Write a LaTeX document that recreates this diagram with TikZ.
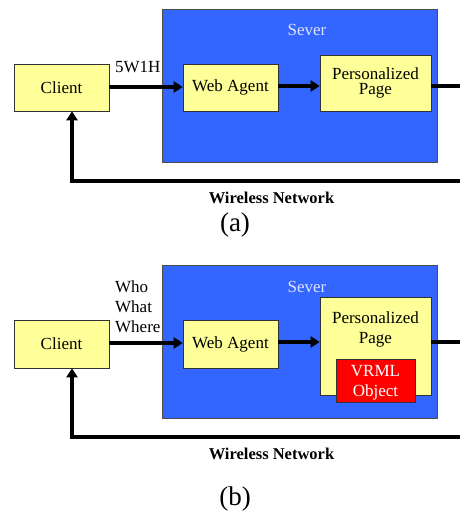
\documentclass[tikz,border=0pt]{standalone}
\usepackage{fontspec}
\setmainfont{Liberation Serif}
\usetikzlibrary{arrows.meta}
\definecolor{serverblue}{HTML}{3366FF}
\definecolor{boxyellow}{HTML}{FFFF99}
\definecolor{objred}{HTML}{FF0000}
\tikzset{
  server/.style={draw=black!70, line width=0.8pt, fill=serverblue},
  ybox/.style={draw=black!80, line width=0.6pt, fill=boxyellow},
  rbox/.style={draw=black!80, line width=0.6pt, fill=objred},
  lbl/.style={font=\fontsize{17}{18}\selectfont, align=center},
  txt/.style={font=\fontsize{17}{18}\selectfont, inner sep=0pt},
  link/.style={line width=3.6pt, -{Triangle[length=9pt,width=11pt]}},
  wire/.style={line width=3.6pt},
  net/.style={font=\bfseries\fontsize{16.5}{18}\selectfont, inner sep=0pt},
  panelcap/.style={font=\fontsize{27}{28}\selectfont, inner sep=0pt}
}
\begin{document}
\begin{tikzpicture}[x=1pt,y=-1pt]
\useasboundingbox (0,0) rectangle (460,512);

% ---------- panel (a) ----------
\draw[server] (162,9) rectangle (437,162);
\node[txt, text=white!88!blue, anchor=base] (svA) at (307,35) {Sever};
\node[ybox, minimum width=95pt, minimum height=47pt] (clA) at (61.5,87.5) {};
\node[lbl] at (clA) {Client};
\node[ybox, minimum width=95pt, minimum height=47pt] (waA) at (230.5,87.5) {};
\node[lbl] at (waA) {Web Agent};
\node[ybox, minimum width=111pt, minimum height=56pt] (ppA) at (375.5,83) {};
\node[lbl, text width=110pt, font=\fontsize{17}{15.5}\selectfont] at (ppA) {Personalized\\Page};
\coordinate (outA) at (461,86);
\coordinate (cornA) at (72,181);
\draw[link] (clA.east |- 0,87) -- (waA.west |- 0,87);
\node[txt, anchor=base west] (qA) at (115,72) {5W1H};
\draw[link] (waA.east |- 0,86) -- (ppA.west |- 0,86);
\draw[wire] (ppA.east |- 0,86) -- (outA);
\draw[link, line cap=butt] (outA |- cornA) -- (cornA) -- (clA.south -| cornA);
\node[net, anchor=base] (wnA) at (271.5,203) {Wireless Network};
\node[panelcap, anchor=base] (capA) at (235,231) {(a)};

% ---------- panel (b) ----------
\draw[server] (162,265) rectangle (437,418);
\node[txt, text=white!88!blue, anchor=base] (svB) at (307,292) {Sever};
\node[ybox, minimum width=95pt, minimum height=48pt] (clB) at (61.5,344) {};
\node[lbl] at (clB) {Client};
\node[ybox, minimum width=95pt, minimum height=48pt] (waB) at (230.5,344) {};
\node[lbl] at (waB) {Web Agent};
\node[ybox, minimum width=111pt, minimum height=98pt] (ppB) at (375.5,346) {};
\node[txt, anchor=base] (ppB1) at (375.5,323) {Personalized};
\node[txt, anchor=base] (ppB2) at (375.5,343) {Page};
\node[rbox, minimum width=79pt, minimum height=43pt] (vrB) at (375.5,380.5) {};
\node[txt, text=white, anchor=base] (vrB1) at (375.5,376) {VRML};
\node[txt, text=white, anchor=base] (vrB2) at (375.5,396) {Object};
\coordinate (outB) at (461,342);
\coordinate (cornB) at (72,437);
\draw[link] (clB.east |- 0,343) -- (waB.west |- 0,343);
\node[txt, anchor=base west] (qB1) at (115,292) {Who};
\node[txt, anchor=base west] (qB2) at (115,312) {What};
\node[txt, anchor=base west] (qB3) at (115,332) {Where};
\draw[link] (waB.east |- 0,342) -- (ppB.west |- 0,342);
\draw[wire] (ppB.east |- 0,342) -- (outB);
\draw[link, line cap=butt] (outB |- cornB) -- (cornB) -- (clB.south -| cornB);
\node[net, anchor=base] (wnB) at (271.5,459) {Wireless Network};
\node[panelcap, anchor=base] (capB) at (235,505) {(b)};
\end{tikzpicture}
\end{document}
